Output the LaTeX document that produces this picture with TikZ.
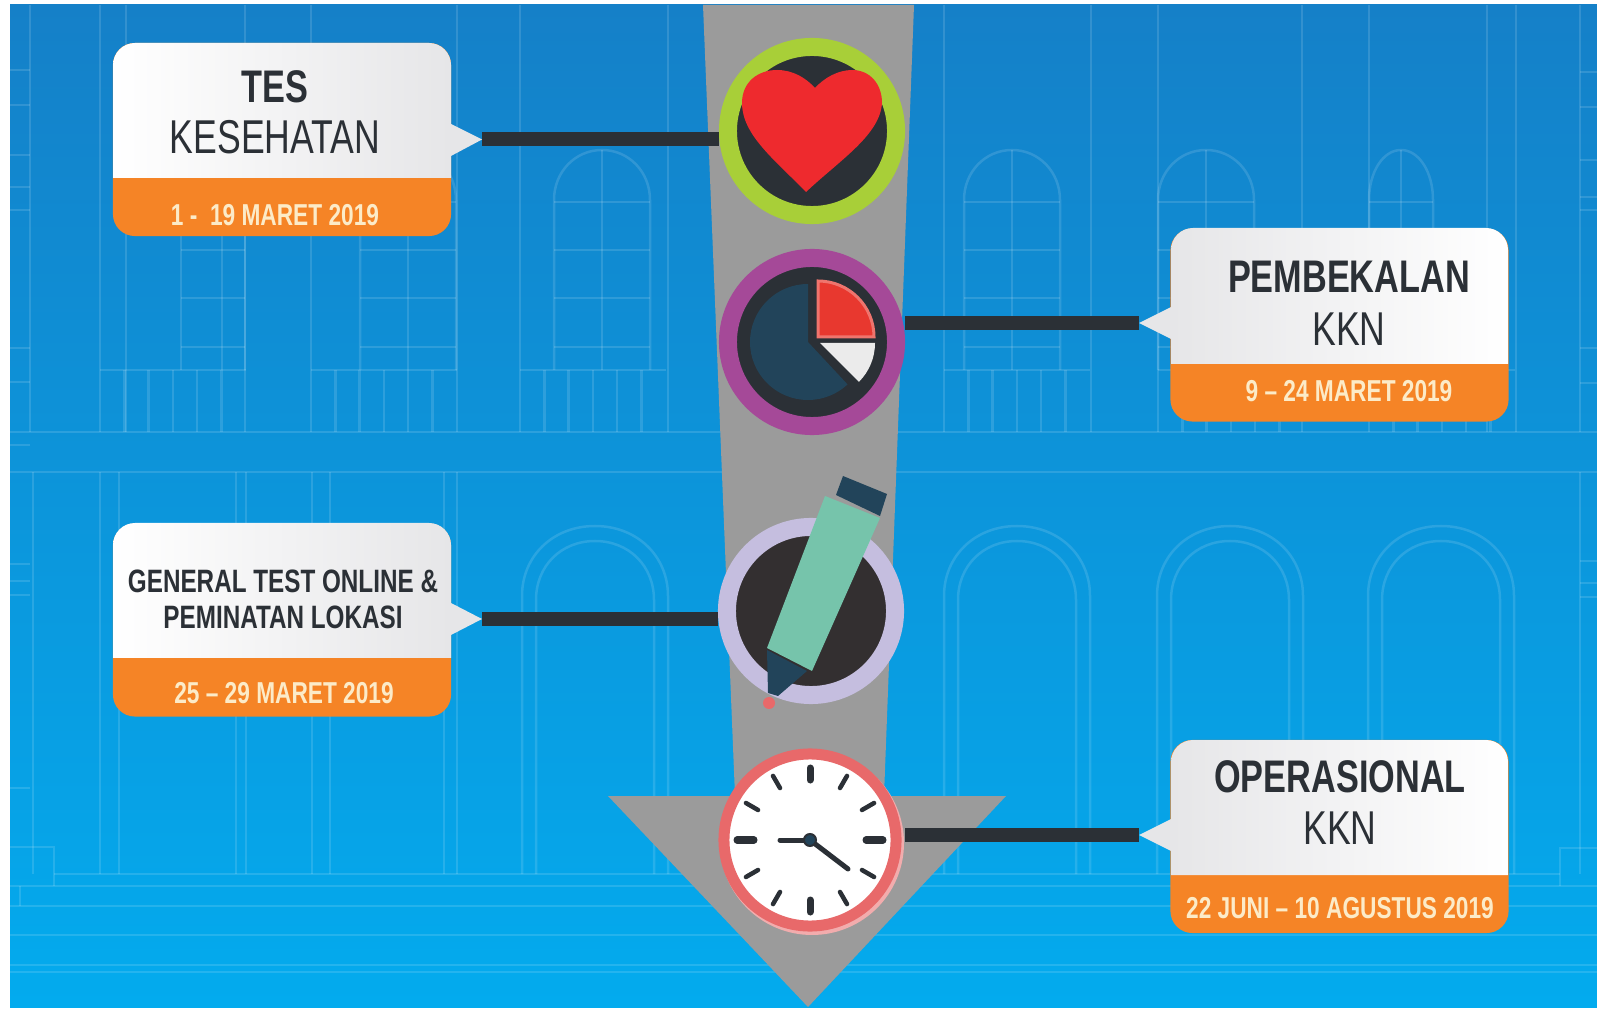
\documentclass[tikz,border=0pt]{standalone}
\usepackage{fontspec}
\setmainfont[FakeStretch=0.75]{Liberation Sans}
\usetikzlibrary{calc}
\definecolor{bgtop}{HTML}{1580C8}
\definecolor{bgmid}{HTML}{0A96DC}
\definecolor{bgbot}{HTML}{03ABEE}
\definecolor{shaft}{HTML}{9B9B9B}
\definecolor{ink}{HTML}{2B3036}
\definecolor{penink}{HTML}{332F30}
\definecolor{dateorange}{HTML}{F58426}
\definecolor{datetxt}{HTML}{FCEBC8}
\definecolor{panelgray}{HTML}{E6E6E8}
\definecolor{navy}{HTML}{22445A}
\definecolor{heartred}{HTML}{EE2A2E}
\definecolor{piered}{HTML}{E8382F}
\definecolor{lime}{HTML}{A8CF38}
\definecolor{plum}{HTML}{A54998}
\definecolor{lilac}{HTML}{C5BEDF}
\definecolor{coral}{HTML}{E8696A}
\definecolor{marker}{HTML}{76C4AB}
\tikzset{
  wall/.style={draw=white, opacity=.13, line width=0.025cm},
  ring/.style={circle, inner sep=0pt, minimum size=1.68cm, line width=0.18cm, fill=ink},
  datepanel/.style={rectangle, rounded corners=0.22cm, inner sep=0pt, minimum width=3.38cm, minimum height=1.93cm, fill=dateorange},
  heading/.style={font=\fontsize{13}{13}\selectfont\bfseries, text=ink, inner sep=0pt},
  subheading/.style={font=\fontsize{13.5}{13.5}\selectfont, text=ink, inner sep=0pt},
  smallheading/.style={font=\fontsize{9.2}{9.2}\selectfont\bfseries, text=ink, inner sep=0pt},
  datelabel/.style={font=\fontsize{8.6}{8.6}\selectfont\bfseries, text=datetxt, inner sep=0pt},
  link/.style={draw=ink, line width=0.14cm}
}
\begin{document}
\begin{tikzpicture}[x=0.01cm, y=-0.01cm]
\useasboundingbox (0,0) rectangle (1597,1010);
\fill[white] (0,0) rectangle (1597,1010);
\shade[top color=bgtop, middle color=bgmid, bottom color=bgbot] (10,5) rectangle (1597,1007);

% building
\begin{scope}
  \clip (10,5) rectangle (1597,1007);
  \foreach \vx in {30,100,126,245,311,457,520,668,944,1091,1158,1302,1369,1487,1516,1580}
    \draw[wall] (\vx,5) -- (\vx,432);
  \foreach \hy in {432,472,886,906,935,965,972}
    \draw[wall] (10,\hy) -- (1597,\hy);
  \draw[wall] (54,874) -- (1560,874);
  \foreach \gx in {100,311,520,944,1158,1369}
    \draw[wall] (\gx,370) -- ++(146,0);
  \foreach \gx in {100,311,520,944,1158,1369}
    \foreach \k in {1,...,5}
      \draw[wall] ({\gx+24.3*\k},370) -- ({\gx+24.3*\k},432);
  % windows
  \foreach \wx/\wr in {408/48,602/48,1012/48,1206/48,1401/32} {
    \draw[wall] (\wx-\wr,370) -- (\wx-\wr,200) .. controls (\wx-\wr,172) and (\wx-\wr*0.56,150) .. (\wx,150)
      .. controls (\wx+\wr*0.56,150) and (\wx+\wr,172) .. (\wx+\wr,200) -- (\wx+\wr,370);
    \draw[wall] (\wx,150) -- (\wx,370);
    \foreach \hy in {202,250,298,347}
      \draw[wall] (\wx-\wr,\hy) -- (\wx+\wr,\hy);
  }
  \foreach \vx in {181,222,245}
    \draw[wall] (\vx,236) -- (\vx,370);
  \foreach \hy in {250,298,347}
    \draw[wall] (181,\hy) -- (245,\hy);
  % lower arches
  \foreach \ax in {595,1017,1230,1441} {
    \draw[wall] (\ax-73,874) -- (\ax-73,596) .. controls (\ax-73,556) and (\ax-42,526) .. (\ax,526)
      .. controls (\ax+42,526) and (\ax+73,556) .. (\ax+73,596) -- (\ax+73,874);
    \draw[wall] (\ax-59,874) -- (\ax-59,600) .. controls (\ax-59,566) and (\ax-34,541) .. (\ax,541)
      .. controls (\ax+34,541) and (\ax+59,566) .. (\ax+59,600) -- (\ax+59,874);
  }
  \foreach \vx in {33,100,119,236,246,312,330,444,457,1580}
    \draw[wall] (\vx,472) -- (\vx,874);
  % side marks
  \foreach \hy in {70,105,155,187,210,348,382,445,564,581,595,788}
    \draw[wall] (10,\hy) -- (30,\hy);
  \foreach \hy in {72,107,160,197,210,348,383,561,583,597}
    \draw[wall] (1580,\hy) -- (1597,\hy);
  \draw[wall] (10,847) -- (54,847) -- (54,886);
  \draw[wall] (20,886) -- (20,906);
  \draw[wall] (1597,848) -- (1560,848) -- (1560,886);
\end{scope}

% arrow
\fill[shaft] (703,5) -- (914,5) -- (884,796) -- (1006,796) -- (808,1007) -- (608,796) -- (735,796) -- cycle;

% circles
\fill[coral!55!white] (812,843) circle[radius=92];
\node[ring, draw=lime] (heart) at (812,131) {};
\node[ring, draw=plum] (pie) at (812,342) {};
\node[ring, draw=lilac, fill=penink] (pen) at (811,611) {};
\node[ring, fill=white, minimum size=1.72cm, line width=0.11cm, draw=coral] (clock) at (810,840) {};

% heart
\fill[heartred] (806,192) .. controls (775,160) and (742,135) .. (742,103) .. controls (742,82) and (758,70) .. (777,70)
  .. controls (793,70) and (806,78) .. (815,88) .. controls (824,78) and (838,70) .. (852,70)
  .. controls (870,70) and (882,84) .. (882,103) .. controls (880,135) and (840,160) .. (806,192) -- cycle;

% pie
\fill[navy] (808,342) -- (808,284) arc[start angle=-90, end angle=-313, radius=58] -- cycle;
\fill[piered, draw=piered!70!white, line width=0.03cm] (818,337) -- (818,281) arc[start angle=-90, end angle=0, radius=56] -- cycle;
\fill[white!92!black] (820,343) -- (875,343) arc[start angle=0, end angle=45, radius=55] -- cycle;

% pen
\fill[navy] (843,476) -- (887,494) -- (880,516) -- (836,495) -- cycle;
\fill[marker] (825,496) -- (880,518) -- (812,671) -- (767,648) -- cycle;
\fill[navy] (767,650) -- (807,671) -- (778,696) -- (768,693) -- cycle;
\fill[coral] (769,703) circle[radius=6];

% clock
\foreach \a in {30,60,120,150,210,240,300,330}
  \draw[ink, line width=0.045cm, line cap=round] ($(clock)+(\a:60)$) -- ($(clock)+(\a:74)$);
\foreach \a in {0,180}
  \draw[ink, line width=0.07cm, line cap=round] ($(clock)+(\a:56)$) -- ($(clock)+(\a:73)$);
\foreach \a in {90,270}
  \draw[ink, line width=0.07cm, line cap=round] ($(clock)+(\a:60)$) -- ($(clock)+(\a:72)$);
\draw[ink, line width=0.05cm, line cap=round] (clock.center) -- ++(-30,0);
\draw[ink, line width=0.05cm, line cap=round] (clock.center) -- ++(38,29);
\draw[ink, line width=0.02cm, fill=navy] (clock.center) circle[radius=6];

% panels
\node[datepanel] (tes) at (282,139.5) {};
\node[datepanel] (bekal) at (1339.5,325) {};
\node[datepanel] (umum) at (282,620) {};
\node[datepanel] (ops) at (1339.5,836.5) {};

\shade[left color=white, right color=panelgray] [rounded corners=0.22cm] (113,178) -- (113,43) -- (451,43) [sharp corners] -- (451,178) -- cycle;
\shade[left color=white, right color=panelgray] [rounded corners=0.22cm] (113,658) -- (113,523) -- (451,523) [sharp corners] -- (451,658) -- cycle;
\shade[left color=panelgray, right color=white] [rounded corners=0.22cm] (1171,364) -- (1171,228) -- (1508,228) [sharp corners] -- (1508,364) -- cycle;
\shade[left color=panelgray, right color=white] [rounded corners=0.22cm] (1171,875) -- (1171,740) -- (1508,740) [sharp corners] -- (1508,875) -- cycle;

% pointers
\coordinate (testip) at (482,139.5);
\coordinate (bekaltip) at (1139,323);
\coordinate (umumtip) at (482,619);
\coordinate (opstip) at (1139,835);
\fill[panelgray] (451,124) -- (testip) -- (451,156) -- cycle;
\fill[panelgray] (451,603) -- (umumtip) -- (451,635) -- cycle;
\fill[panelgray] (1171,307) -- (bekaltip) -- (1171,339) -- cycle;
\fill[panelgray] (1171,819) -- (opstip) -- (1171,851) -- cycle;

\draw[link] (testip) -- (testip -| heart.west);
\draw[link] (bekaltip) -- (bekaltip -| pie.east);
\draw[link] (umumtip) -- (umumtip -| pen.west);
\draw[link, shorten >=0.03cm] (opstip) -- (opstip -| clock.east);

% texts
\node[heading] (tesa) at (275,87) {TES};
\node[subheading] (tesb) at (275,137) {KESEHATAN};
\node[datelabel] (tesdate) at (275,215) {1 -\ \ 19 MARET 2019};
\node[heading] (bekala) at (1349,277) {PEMBEKALAN};
\node[subheading] (bekalb) at (1349,329) {KKN};
\node[datelabel] (bekaldate) at (1349,391) {9 -- 24 MARET 2019};
\node[smallheading] (umuma) at (283,581) {GENERAL TEST ONLINE \&};
\node[smallheading] (umumb) at (283,617) {PEMINATAN LOKASI};
\node[datelabel] (umumdate) at (284,693) {25 -- 29 MARET 2019};
\node[heading] (opsa) at (1340,777) {OPERASIONAL};
\node[subheading] (opsb) at (1340,828) {KKN};
\node[datelabel] (opsdate) at (1340,908) {22 JUNI -- 10 AGUSTUS 2019};
\end{tikzpicture}
\end{document}
